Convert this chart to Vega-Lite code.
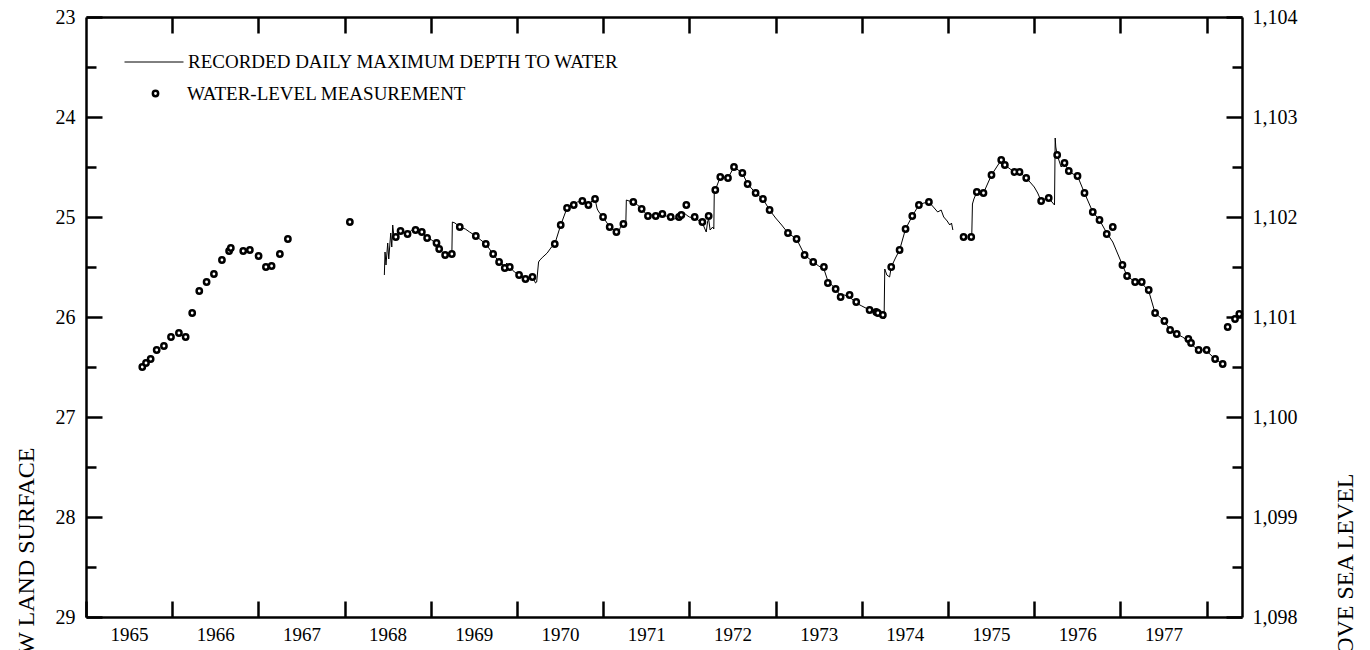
{
  "$schema": "https://vega.github.io/schema/vega-lite/v6.json",
  "autosize": {"type": "none"},
  "padding": {"left": 86, "top": 17, "right": 128, "bottom": 33},
  "width": 1156,
  "height": 600,
  "background": "white",
  "datasets": {
    "line": [
      {"t":1968.461,"depth":25.58,"seg":1},{"t":1968.469,"depth":25.35,"seg":1},{"t":1968.480,"depth":25.48,"seg":1},{"t":1968.500,"depth":25.26,"seg":1},{"t":1968.512,"depth":25.42,"seg":1},{"t":1968.535,"depth":25.16,"seg":1},{"t":1968.547,"depth":25.30,"seg":1},{"t":1968.558,"depth":25.08,"seg":1},{"t":1968.575,"depth":25.22,"seg":1},{"t":1968.594,"depth":25.20,"seg":1},{"t":1968.649,"depth":25.14,"seg":1},{"t":1968.690,"depth":25.16,"seg":1},{"t":1968.730,"depth":25.17,"seg":1},{"t":1968.780,"depth":25.13,"seg":1},{"t":1968.823,"depth":25.13,"seg":1},{"t":1968.896,"depth":25.15,"seg":1},{"t":1968.957,"depth":25.21,"seg":1},{"t":1969.010,"depth":25.23,"seg":1},{"t":1969.066,"depth":25.27,"seg":1},{"t":1969.097,"depth":25.32,"seg":1},{"t":1969.166,"depth":25.38,"seg":1},{"t":1969.210,"depth":25.36,"seg":1},{"t":1969.244,"depth":25.38,"seg":1},{"t":1969.250,"depth":25.05,"seg":1},{"t":1969.280,"depth":25.06,"seg":1},{"t":1969.336,"depth":25.10,"seg":1},{"t":1969.400,"depth":25.12,"seg":1},{"t":1969.450,"depth":25.15,"seg":1},{"t":1969.522,"depth":25.19,"seg":1},{"t":1969.580,"depth":25.23,"seg":1},{"t":1969.638,"depth":25.27,"seg":1},{"t":1969.723,"depth":25.37,"seg":1},{"t":1969.792,"depth":25.45,"seg":1},{"t":1969.830,"depth":25.47,"seg":1},{"t":1969.858,"depth":25.51,"seg":1},{"t":1969.880,"depth":25.46,"seg":1},{"t":1969.916,"depth":25.50,"seg":1},{"t":1969.970,"depth":25.55,"seg":1},{"t":1970.024,"depth":25.58,"seg":1},{"t":1970.098,"depth":25.62,"seg":1},{"t":1970.179,"depth":25.60,"seg":1},{"t":1970.215,"depth":25.66,"seg":1},{"t":1970.228,"depth":25.65,"seg":1},{"t":1970.250,"depth":25.45,"seg":1},{"t":1970.265,"depth":25.43,"seg":1},{"t":1970.300,"depth":25.40,"seg":1},{"t":1970.350,"depth":25.36,"seg":1},{"t":1970.400,"depth":25.30,"seg":1},{"t":1970.438,"depth":25.27,"seg":1},{"t":1970.507,"depth":25.08,"seg":1},{"t":1970.580,"depth":24.91,"seg":1},{"t":1970.658,"depth":24.88,"seg":1},{"t":1970.700,"depth":24.85,"seg":1},{"t":1970.758,"depth":24.84,"seg":1},{"t":1970.800,"depth":24.86,"seg":1},{"t":1970.828,"depth":24.88,"seg":1},{"t":1970.870,"depth":24.84,"seg":1},{"t":1970.905,"depth":24.82,"seg":1},{"t":1970.930,"depth":24.92,"seg":1},{"t":1970.950,"depth":24.95,"seg":1},{"t":1970.998,"depth":25.00,"seg":1},{"t":1971.075,"depth":25.10,"seg":1},{"t":1971.153,"depth":25.15,"seg":1},{"t":1971.170,"depth":25.18,"seg":1},{"t":1971.200,"depth":25.10,"seg":1},{"t":1971.234,"depth":25.07,"seg":1},{"t":1971.262,"depth":25.08,"seg":1},{"t":1971.268,"depth":24.83,"seg":1},{"t":1971.300,"depth":24.84,"seg":1},{"t":1971.349,"depth":24.85,"seg":1},{"t":1971.400,"depth":24.88,"seg":1},{"t":1971.446,"depth":24.92,"seg":1},{"t":1971.519,"depth":24.99,"seg":1},{"t":1971.560,"depth":24.98,"seg":1},{"t":1971.609,"depth":24.99,"seg":1},{"t":1971.686,"depth":24.97,"seg":1},{"t":1971.730,"depth":24.99,"seg":1},{"t":1971.783,"depth":25.00,"seg":1},{"t":1971.830,"depth":25.02,"seg":1},{"t":1971.879,"depth":25.00,"seg":1},{"t":1971.906,"depth":24.98,"seg":1},{"t":1971.930,"depth":24.95,"seg":1},{"t":1971.964,"depth":24.98,"seg":1},{"t":1972.000,"depth":25.00,"seg":1},{"t":1972.061,"depth":25.01,"seg":1},{"t":1972.100,"depth":25.03,"seg":1},{"t":1972.150,"depth":25.06,"seg":1},{"t":1972.180,"depth":25.12,"seg":1},{"t":1972.195,"depth":25.15,"seg":1},{"t":1972.210,"depth":25.05,"seg":1},{"t":1972.223,"depth":25.02,"seg":1},{"t":1972.240,"depth":25.13,"seg":1},{"t":1972.270,"depth":25.10,"seg":1},{"t":1972.283,"depth":25.12,"seg":1},{"t":1972.288,"depth":24.76,"seg":1},{"t":1972.300,"depth":24.73,"seg":1},{"t":1972.358,"depth":24.60,"seg":1},{"t":1972.400,"depth":24.60,"seg":1},{"t":1972.447,"depth":24.61,"seg":1},{"t":1972.517,"depth":24.50,"seg":1},{"t":1972.614,"depth":24.56,"seg":1},{"t":1972.675,"depth":24.67,"seg":1},{"t":1972.768,"depth":24.76,"seg":1},{"t":1972.853,"depth":24.82,"seg":1},{"t":1972.930,"depth":24.93,"seg":1},{"t":1973.000,"depth":25.01,"seg":1},{"t":1973.070,"depth":25.08,"seg":1},{"t":1973.143,"depth":25.16,"seg":1},{"t":1973.243,"depth":25.22,"seg":1},{"t":1973.336,"depth":25.38,"seg":1},{"t":1973.436,"depth":25.45,"seg":1},{"t":1973.500,"depth":25.49,"seg":1},{"t":1973.560,"depth":25.52,"seg":1},{"t":1973.606,"depth":25.64,"seg":1},{"t":1973.696,"depth":25.72,"seg":1},{"t":1973.754,"depth":25.79,"seg":1},{"t":1973.800,"depth":25.78,"seg":1},{"t":1973.858,"depth":25.80,"seg":1},{"t":1973.935,"depth":25.86,"seg":1},{"t":1974.000,"depth":25.89,"seg":1},{"t":1974.090,"depth":25.93,"seg":1},{"t":1974.167,"depth":25.96,"seg":1},{"t":1974.220,"depth":25.97,"seg":1},{"t":1974.244,"depth":25.98,"seg":1},{"t":1974.258,"depth":26.02,"seg":1},{"t":1974.266,"depth":25.52,"seg":1},{"t":1974.290,"depth":25.58,"seg":1},{"t":1974.322,"depth":25.60,"seg":1},{"t":1974.341,"depth":25.50,"seg":1},{"t":1974.390,"depth":25.41,"seg":1},{"t":1974.438,"depth":25.33,"seg":1},{"t":1974.507,"depth":25.12,"seg":1},{"t":1974.585,"depth":24.99,"seg":1},{"t":1974.662,"depth":24.88,"seg":1},{"t":1974.720,"depth":24.86,"seg":1},{"t":1974.778,"depth":24.85,"seg":1},{"t":1974.830,"depth":24.90,"seg":1},{"t":1974.880,"depth":24.95,"seg":1},{"t":1974.920,"depth":24.93,"seg":1},{"t":1974.950,"depth":25.00,"seg":1},{"t":1974.990,"depth":25.04,"seg":1},{"t":1975.020,"depth":25.08,"seg":1},{"t":1975.040,"depth":25.06,"seg":1},{"t":1975.056,"depth":25.13,"seg":1},
      {"t":1975.275,"depth":25.20,"seg":2},{"t":1975.283,"depth":24.87,"seg":2},{"t":1975.300,"depth":24.82,"seg":2},{"t":1975.334,"depth":24.75,"seg":2},{"t":1975.411,"depth":24.76,"seg":2},{"t":1975.504,"depth":24.58,"seg":2},{"t":1975.617,"depth":24.43,"seg":2},{"t":1975.659,"depth":24.48,"seg":2},{"t":1975.720,"depth":24.52,"seg":2},{"t":1975.771,"depth":24.55,"seg":2},{"t":1975.829,"depth":24.55,"seg":2},{"t":1975.907,"depth":24.61,"seg":2},{"t":1975.960,"depth":24.66,"seg":2},{"t":1976.000,"depth":24.70,"seg":2},{"t":1976.040,"depth":24.76,"seg":2},{"t":1976.080,"depth":24.84,"seg":2},{"t":1976.120,"depth":24.82,"seg":2},{"t":1976.168,"depth":24.81,"seg":2},{"t":1976.215,"depth":24.86,"seg":2},{"t":1976.235,"depth":24.88,"seg":2},{"t":1976.243,"depth":24.21,"seg":2},{"t":1976.250,"depth":24.30,"seg":2},{"t":1976.266,"depth":24.38,"seg":2},{"t":1976.312,"depth":24.50,"seg":2},{"t":1976.351,"depth":24.46,"seg":2},{"t":1976.401,"depth":24.54,"seg":2},{"t":1976.450,"depth":24.57,"seg":2},{"t":1976.502,"depth":24.59,"seg":2},{"t":1976.583,"depth":24.76,"seg":2},{"t":1976.679,"depth":24.95,"seg":2},{"t":1976.757,"depth":25.03,"seg":2},{"t":1976.841,"depth":25.16,"seg":2},{"t":1976.911,"depth":25.25,"seg":2},{"t":1977.023,"depth":25.48,"seg":2},{"t":1977.077,"depth":25.59,"seg":2},{"t":1977.170,"depth":25.65,"seg":2},{"t":1977.247,"depth":25.66,"seg":2},{"t":1977.328,"depth":25.74,"seg":2},{"t":1977.402,"depth":25.96,"seg":2},{"t":1977.510,"depth":26.04,"seg":2},{"t":1977.576,"depth":26.13,"seg":2},{"t":1977.653,"depth":26.17,"seg":2},{"t":1977.720,"depth":26.20,"seg":2},{"t":1977.788,"depth":26.24,"seg":2},{"t":1977.819,"depth":26.27,"seg":2},{"t":1977.860,"depth":26.30,"seg":2},{"t":1977.907,"depth":26.33,"seg":2},{"t":1977.950,"depth":26.33,"seg":2},{"t":1978.000,"depth":26.34,"seg":2},{"t":1978.098,"depth":26.42,"seg":2},{"t":1978.186,"depth":26.47,"seg":2}
    ],
    "meas": [
      {"t":1965.653,"depth":26.50},{"t":1965.696,"depth":26.46},{"t":1965.750,"depth":26.42},{"t":1965.820,"depth":26.33},{"t":1965.904,"depth":26.29},{"t":1965.986,"depth":26.20},{"t":1966.078,"depth":26.16},{"t":1966.156,"depth":26.20},{"t":1966.232,"depth":25.96},{"t":1966.314,"depth":25.74},{"t":1966.399,"depth":25.65},{"t":1966.484,"depth":25.57},{"t":1966.577,"depth":25.43},{"t":1966.660,"depth":25.34},{"t":1966.680,"depth":25.31},{"t":1966.824,"depth":25.34},{"t":1966.901,"depth":25.33},{"t":1967.002,"depth":25.39},{"t":1967.087,"depth":25.50},{"t":1967.153,"depth":25.49},{"t":1967.249,"depth":25.37},{"t":1967.342,"depth":25.22},{"t":1968.061,"depth":25.05},{"t":1968.594,"depth":25.20},{"t":1968.649,"depth":25.14},{"t":1968.730,"depth":25.17},{"t":1968.823,"depth":25.13},{"t":1968.896,"depth":25.15},{"t":1968.957,"depth":25.21},{"t":1969.066,"depth":25.26},{"t":1969.097,"depth":25.32},{"t":1969.166,"depth":25.38},{"t":1969.244,"depth":25.37},{"t":1969.336,"depth":25.10},{"t":1969.522,"depth":25.19},{"t":1969.638,"depth":25.27},{"t":1969.723,"depth":25.37},{"t":1969.792,"depth":25.45},{"t":1969.858,"depth":25.51},{"t":1969.916,"depth":25.50},{"t":1970.024,"depth":25.58},{"t":1970.098,"depth":25.62},{"t":1970.179,"depth":25.60},{"t":1970.438,"depth":25.27},{"t":1970.507,"depth":25.08},{"t":1970.580,"depth":24.91},{"t":1970.658,"depth":24.88},{"t":1970.758,"depth":24.84},{"t":1970.828,"depth":24.88},{"t":1970.905,"depth":24.82},{"t":1970.998,"depth":25.00},{"t":1971.075,"depth":25.10},{"t":1971.153,"depth":25.15},{"t":1971.234,"depth":25.07},{"t":1971.349,"depth":24.85},{"t":1971.446,"depth":24.92},{"t":1971.519,"depth":24.99},{"t":1971.609,"depth":24.99},{"t":1971.686,"depth":24.97},{"t":1971.783,"depth":25.00},{"t":1971.879,"depth":25.00},{"t":1971.906,"depth":24.98},{"t":1971.964,"depth":24.88},
      {"t":1972.061,"depth":25.00},{"t":1972.150,"depth":25.05},{"t":1972.223,"depth":24.99},{"t":1972.300,"depth":24.73},{"t":1972.358,"depth":24.60},{"t":1972.447,"depth":24.61},{"t":1972.517,"depth":24.50},{"t":1972.614,"depth":24.56},{"t":1972.675,"depth":24.67},{"t":1972.768,"depth":24.76},{"t":1972.853,"depth":24.82},{"t":1972.930,"depth":24.93},{"t":1973.143,"depth":25.16},{"t":1973.243,"depth":25.22},{"t":1973.336,"depth":25.38},{"t":1973.436,"depth":25.45},{"t":1973.560,"depth":25.50},{"t":1973.606,"depth":25.66},{"t":1973.696,"depth":25.72},{"t":1973.754,"depth":25.80},{"t":1973.858,"depth":25.78},{"t":1973.935,"depth":25.85},{"t":1974.090,"depth":25.93},{"t":1974.167,"depth":25.95},{"t":1974.186,"depth":25.96},{"t":1974.244,"depth":25.98},{"t":1974.341,"depth":25.50},{"t":1974.438,"depth":25.33},{"t":1974.507,"depth":25.12},{"t":1974.585,"depth":24.99},{"t":1974.662,"depth":24.88},{"t":1974.778,"depth":24.85},{"t":1975.180,"depth":25.20},{"t":1975.269,"depth":25.20},{"t":1975.334,"depth":24.75},{"t":1975.411,"depth":24.76},{"t":1975.504,"depth":24.58},{"t":1975.617,"depth":24.43},{"t":1975.659,"depth":24.48},{"t":1975.771,"depth":24.55},{"t":1975.829,"depth":24.55},{"t":1975.907,"depth":24.61},{"t":1976.080,"depth":24.84},{"t":1976.168,"depth":24.81},{"t":1976.266,"depth":24.38},{"t":1976.351,"depth":24.46},{"t":1976.401,"depth":24.54},{"t":1976.502,"depth":24.59},{"t":1976.583,"depth":24.76},{"t":1976.679,"depth":24.95},{"t":1976.757,"depth":25.03},{"t":1976.841,"depth":25.17},{"t":1976.911,"depth":25.10},{"t":1977.023,"depth":25.48},{"t":1977.077,"depth":25.59},{"t":1977.170,"depth":25.65},{"t":1977.247,"depth":25.65},{"t":1977.328,"depth":25.73},{"t":1977.402,"depth":25.96},{"t":1977.510,"depth":26.04},{"t":1977.576,"depth":26.13},{"t":1977.653,"depth":26.17},{"t":1977.788,"depth":26.22},{"t":1977.819,"depth":26.26},{"t":1977.907,"depth":26.33},{"t":1978.000,"depth":26.33},{"t":1978.098,"depth":26.42},{"t":1978.186,"depth":26.47},{"t":1978.244,"depth":26.10},{"t":1978.329,"depth":26.02},{"t":1978.379,"depth":25.97}
    ]
  },
  "layer": [
    {
      "data": {"name": "line"},
      "transform": [{"filter": "datum.seg == 1"}],
      "mark": {"type": "line", "stroke": "black", "strokeWidth": 1, "interpolate": "linear"},
      "encoding": {
        "x": {"field": "t", "type": "quantitative", "scale": {"domain": [1965, 1978.41], "nice": false, "zero": false},
              "axis": {"orient": "bottom", "values": [1965,1966,1967,1968,1969,1970,1971,1972,1973,1974,1975,1976,1977,1978], "labelExpr": "datum.value >= 1978 ? '' : format(datum.value, 'd')", "labelOffset": 43, "tickSize": -16, "labelPadding": 24, "labelFontSize": 19, "title": null}},
        "y": {"field": "depth", "type": "quantitative", "scale": {"domain": [23, 29], "reverse": true, "nice": false, "zero": false},
              "axis": {"orient": "left", "values": [23,24,25,26,27,28,29], "format": "d", "tickSize": -16, "labelPadding": 27, "title": "WATER LEVEL, IN FEET BELOW LAND SURFACE", "titleAngle": -90, "titleAlign": "right", "titleBaseline": "alphabetic", "titleX": -53, "titleY": 430}},
        "color": {"datum": "RECORDED DAILY MAXIMUM DEPTH TO WATER", "type": "nominal", "scale": {"range": ["black"]},
                  "legend": {"orient": "none", "legendX": 38, "legendY": 15, "title": null, "symbolType": "stroke", "symbolSize": 3481, "symbolStrokeWidth": 1, "labelOffset": 4, "padding": 0}}
      }
    },
    {
      "data": {"name": "line"},
      "transform": [{"filter": "datum.seg == 2"}],
      "mark": {"type": "line", "stroke": "black", "strokeWidth": 1, "interpolate": "linear"},
      "encoding": {
        "x": {"field": "t", "type": "quantitative", "scale": {"domain": [1965, 1978.41], "nice": false, "zero": false},
              "axis": {"orient": "top", "values": [1966,1967,1968,1969,1970,1971,1972,1973,1974,1975,1976,1977,1978], "labels": false, "tickSize": -16, "title": null}},
        "y": {"field": "depth", "type": "quantitative", "scale": {"domain": [23, 29], "reverse": true, "nice": false, "zero": false},
              "axis": {"orient": "left", "values": [23.5,24.5,25.5,26.5,27.5,28.5], "labels": false, "domain": false, "tickSize": -10, "title": null}},
        "color": {"datum": "RECORDED DAILY MAXIMUM DEPTH TO WATER", "type": "nominal"}
      }
    },
    {
      "data": {"name": "meas"},
      "transform": [{"filter": "datum.t < 1972"}],
      "mark": {"type": "point", "shape": "circle", "filled": false, "fill": "white", "fillOpacity": 1, "strokeWidth": 2.5, "size": 28, "opacity": 1},
      "encoding": {
        "x": {"field": "t", "type": "quantitative", "scale": {"domain": [1965, 1978.41], "nice": false, "zero": false}, "axis": null},
        "y": {"field": "depth", "type": "quantitative", "scale": {"domain": [23, 29], "reverse": true, "nice": false, "zero": false},
              "axis": {"orient": "right", "values": [23,24,25,26,27,28,29], "labelExpr": "format(1127 - datum.value, ',')", "tickSize": -16, "labelPadding": 26, "title": "WATER LEVEL, IN FEET ABOVE SEA LEVEL", "titleAngle": -90, "titleAlign": "right", "titleBaseline": "alphabetic", "titleX": 110, "titleY": 456}},
        "stroke": {"datum": "WATER-LEVEL MEASUREMENT", "type": "nominal", "scale": {"range": ["black"]},
                  "legend": {"orient": "none", "legendX": 60, "legendY": 67, "title": null, "symbolType": "circle", "symbolSize": 28, "symbolStrokeWidth": 2.5, "symbolFillColor": "white", "symbolOpacity": 1, "labelOffset": 22, "padding": 0}}
      }
    },
    {
      "data": {"name": "meas"},
      "transform": [{"filter": "datum.t >= 1972"}],
      "mark": {"type": "point", "shape": "circle", "filled": false, "fill": "white", "fillOpacity": 1, "strokeWidth": 2.5, "size": 28, "opacity": 1},
      "encoding": {
        "x": {"field": "t", "type": "quantitative", "scale": {"domain": [1965, 1978.41], "nice": false, "zero": false}, "axis": null},
        "y": {"field": "depth", "type": "quantitative", "scale": {"domain": [23, 29], "reverse": true, "nice": false, "zero": false},
              "axis": {"orient": "right", "values": [23.5,24.5,25.5,26.5,27.5,28.5], "labels": false, "domain": false, "tickSize": -10, "title": null}},
        "stroke": {"datum": "WATER-LEVEL MEASUREMENT", "type": "nominal"}
      }
    }
  ],
  "resolve": {"axis": {"x": "independent", "y": "independent"}},
  "config": {
    "view": {"stroke": null},
    "axis": {"grid": false, "labelFont": "Liberation Serif", "labelFontSize": 20, "labelColor": "black", "labelFlush": false, "labelOverlap": false, "labelBound": false, "tickColor": "black", "tickWidth": 2.5, "domainColor": "black", "domainWidth": 2.5, "titleFont": "Liberation Serif", "titleFontSize": 24, "titleFontWeight": "normal", "titleColor": "black"},
    "legend": {"labelFont": "Liberation Serif", "labelFontSize": 19, "labelColor": "black", "labelLimit": 0}
  }
}
